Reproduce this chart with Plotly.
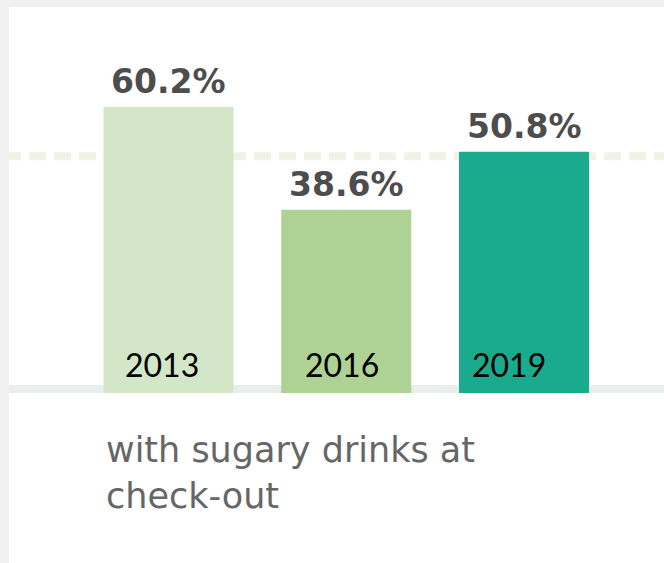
import plotly.graph_objects as go

# ---- data ----
years = ["2013", "2016", "2019"]
values = [60.2, 38.6, 50.8]
value_labels = ["60.2%", "38.6%", "50.8%"]
subtitle = "with sugary drinks at<br>check-out"

# ---- style ----
bar_colors = ["#d3e6c8", "#aed194", "#1aab8e"]
year_xshift = [-7, -4, -15]
W, H = 664, 563
base_px = 393.0             # pixel row of the zero line
px_per_unit = 4.75          # pixels per percentage point
first_center_px = 168.5
last_center_px = 524.0
spacing_px = (last_center_px - first_center_px) / 2
bar_w_px = 130
frame_top, frame_left = 7, 9

y_range = [-(H - base_px) / px_per_unit, base_px / px_per_unit]
x_range = [-first_center_px / spacing_px, 2 + (W - last_center_px) / spacing_px]

mean_val = sum(values) / len(values)

fig = go.Figure()
fig.add_trace(go.Bar(
    x=list(range(len(years))), y=values,
    marker=dict(color=bar_colors, line=dict(width=0)),
    width=bar_w_px / spacing_px,
    hoverinfo="skip",
))

annotations = []
for i, (v, lab) in enumerate(zip(values, value_labels)):
    annotations.append(dict(
        x=i, y=v, xref="x", yref="y", text=lab, showarrow=False,
        xanchor="center", yanchor="bottom", yshift=4,
        font=dict(family="DejaVu Sans", size=33, color="#4d4d4d", weight="bold"),
    ))
for i, yr in enumerate(years):
    annotations.append(dict(
        x=i, y=0, xref="x", yref="y", text=yr, showarrow=False,
        xanchor="center", yanchor="bottom", yshift=7, xshift=year_xshift[i],
        font=dict(family="Lato", size=32, color="#000000"),
    ))
annotations.append(dict(
    x=104 / W, y=1 - 428 / H, xref="paper", yref="paper", text=subtitle,
    showarrow=False, xanchor="left", yanchor="top", align="left",
    font=dict(family="DejaVu Sans", size=35, color="#666666"),
))

shapes = [
    # baseline band
    dict(type="rect", xref="paper", yref="y", x0=0, x1=1, y0=0, y1=8 / px_per_unit,
         fillcolor="#e8eeec", line=dict(width=0), layer="below"),
    # dashed average line
    dict(type="line", xref="paper", yref="y", x0=4 / W, x1=1, y0=mean_val, y1=mean_val,
         line=dict(color="#f1f2e6", width=8, dash="17px,8px"), layer="below"),
    # light grey frame (top and left)
    dict(type="rect", xref="paper", yref="paper", x0=0, x1=1, y0=1 - frame_top / H, y1=1,
         fillcolor="#f0f0f0", line=dict(width=0), layer="above"),
    dict(type="rect", xref="paper", yref="paper", x0=0, x1=frame_left / W, y0=0, y1=1,
         fillcolor="#f0f0f0", line=dict(width=0), layer="above"),
]

fig.update_layout(
    width=W, height=H,
    margin=dict(l=0, r=0, t=0, b=0),
    paper_bgcolor="white", plot_bgcolor="white",
    showlegend=False,
    xaxis=dict(range=x_range, visible=False, fixedrange=True),
    yaxis=dict(range=y_range, visible=False, fixedrange=True),
    annotations=annotations, shapes=shapes,
)

fig.write_html(
    "out.html",
    config={"displayModeBar": False, "staticPlot": True},
    post_script=(
        "document.body.style.margin='0';"
        "document.body.style.overflow='hidden';"
        "document.documentElement.style.overflow='hidden';"
    ),
)
